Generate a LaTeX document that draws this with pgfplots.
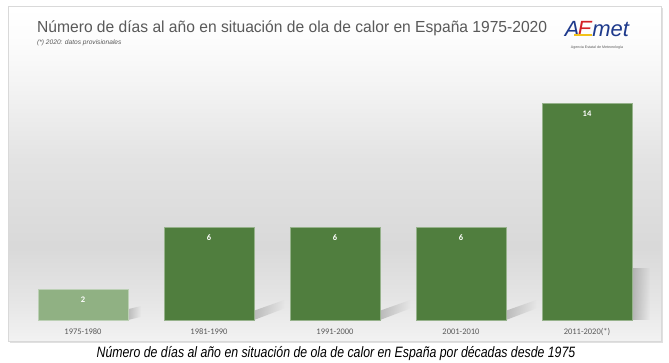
\documentclass[border=0pt]{standalone}
\usepackage{pgfplots}
\pgfplotsset{compat=1.18}
\usepackage{fontspec}
\setmainfont{Liberation Sans}
\newfontfamily\carlito{Carlito}
\newfontfamily\titlefont[FakeStretch=0.975]{Liberation Sans}
\newfontfamily\narrowfont[FakeStretch=0.82]{Liberation Sans}
\usetikzlibrary{fadings}
\definecolor{dgreen}{HTML}{507E3E}
\definecolor{lgreen}{HTML}{90B183}
\definecolor{titlegray}{HTML}{595959}
\definecolor{aemetblue}{HTML}{1E3A8C}
\definecolor{aemetred}{HTML}{D42027}
\definecolor{aemetyellow}{HTML}{F2C21B}
\pgfdeclareverticalshading{panelshade}{100bp}{%
  color(0bp)=(black!5); color(25bp)=(black!5); color(31bp)=(black!10);
  color(39bp)=(black!15); color(52bp)=(black!11); color(64bp)=(black!4);
  color(70bp)=(black!1); color(75bp)=(white); color(100bp)=(white)}
\begin{document}
\begin{tikzpicture}[x=1pt,y=1pt]
\path[use as bounding box] (0,0) rectangle (669,362);
% panel shadow and panel
\fill[black!12] (10,19) rectangle (663,354);
\shade[shading=panelshade, draw=black!15] (8,21) rectangle (661,356);
% title
\node[anchor=base west, inner sep=0, text=titlegray, font=\titlefont\fontsize{16}{18}\selectfont] at (37,329.5)
  {Número de días al año en situación de ola de calor en España 1975-2020};
\node[anchor=base west, inner sep=0, text=titlegray, font=\itshape\fontsize{6.6}{7}\selectfont] at (37,317.5)
  {(*) 2020: datos provisionales};
% logo
\node[inner sep=0, font=\itshape\fontsize{22}{24}\selectfont] at (597,333)
  {\textcolor{aemetblue}{A}\kern-2pt\textcolor{aemetred}{E}\textcolor{aemetblue}{met}};
\draw[aemetyellow, line width=1.3pt] (574,327) -- (592,327);
\node[inner sep=0, text=titlegray, font=\fontsize{3.6}{4}\selectfont] at (597,314)
  {Agencia Estatal de Meteorología};
% caption
\node[anchor=base, inner sep=0, font=\narrowfont\itshape\fontsize{15}{17}\selectfont] at (336,5)
  {Número de días al año en situación de ola de calor en España por décadas desde 1975};
\begin{axis}[
  at={(20pt,42pt)}, anchor=south west, scale only axis,
  width=630pt, height=248pt,
  xmin=-0.5, xmax=4.5, ymin=0, ymax=16,
  axis line style={draw=none},
  ytick=\empty,
  xtick={0,1,2,3,4},
  xticklabels={1975-1980,1981-1990,1991-2000,2001-2010,2011-2020(*)},
  major tick length=0pt,
  xticklabel style={font=\carlito\fontsize{8.5}{10}\selectfont, text=titlegray, yshift=-5pt},
  /pgf/number format/assume math mode=true,
  clip=false,
]
% decorative bar shadows
\fill[black!35, path fading=east, opacity=0.7] (axis cs:0.357,0) -- (axis cs:0.357,0.7) -- (axis cs:0.46,0.9) -- (axis cs:0.46,0.2) -- cycle;
\fill[black!35, path fading=east, opacity=0.7] (axis cs:1.357,0) -- (axis cs:1.357,0.6) -- (axis cs:1.6,1.3) -- (axis cs:1.6,0.75) -- cycle;
\fill[black!35, path fading=east, opacity=0.7] (axis cs:2.357,0) -- (axis cs:2.357,0.6) -- (axis cs:2.6,1.3) -- (axis cs:2.6,0.75) -- cycle;
\fill[black!35, path fading=east, opacity=0.7] (axis cs:3.357,0) -- (axis cs:3.357,0.6) -- (axis cs:3.6,1.3) -- (axis cs:3.6,0.75) -- cycle;
\fill[black!35, path fading=east, opacity=0.8] (axis cs:4.357,0) rectangle (axis cs:4.5,3.35);
\addplot[ybar, bar width=90pt, bar shift=0pt, fill=lgreen, draw=lgreen!60!white,
  nodes near coords, every node near coord/.append style={anchor=center, yshift=-11pt, text=white, font=\carlito\bfseries\fontsize{8.5}{10}\selectfont}] coordinates {(0,2)};
\addplot[ybar, bar width=90pt, bar shift=0pt, fill=dgreen, draw=dgreen!60!white,
  nodes near coords, every node near coord/.append style={anchor=center, yshift=-11pt, text=white, font=\carlito\bfseries\fontsize{8.5}{10}\selectfont}] coordinates {(1,6) (2,6) (3,6) (4,14)};
\end{axis}
\end{tikzpicture}
\end{document}
